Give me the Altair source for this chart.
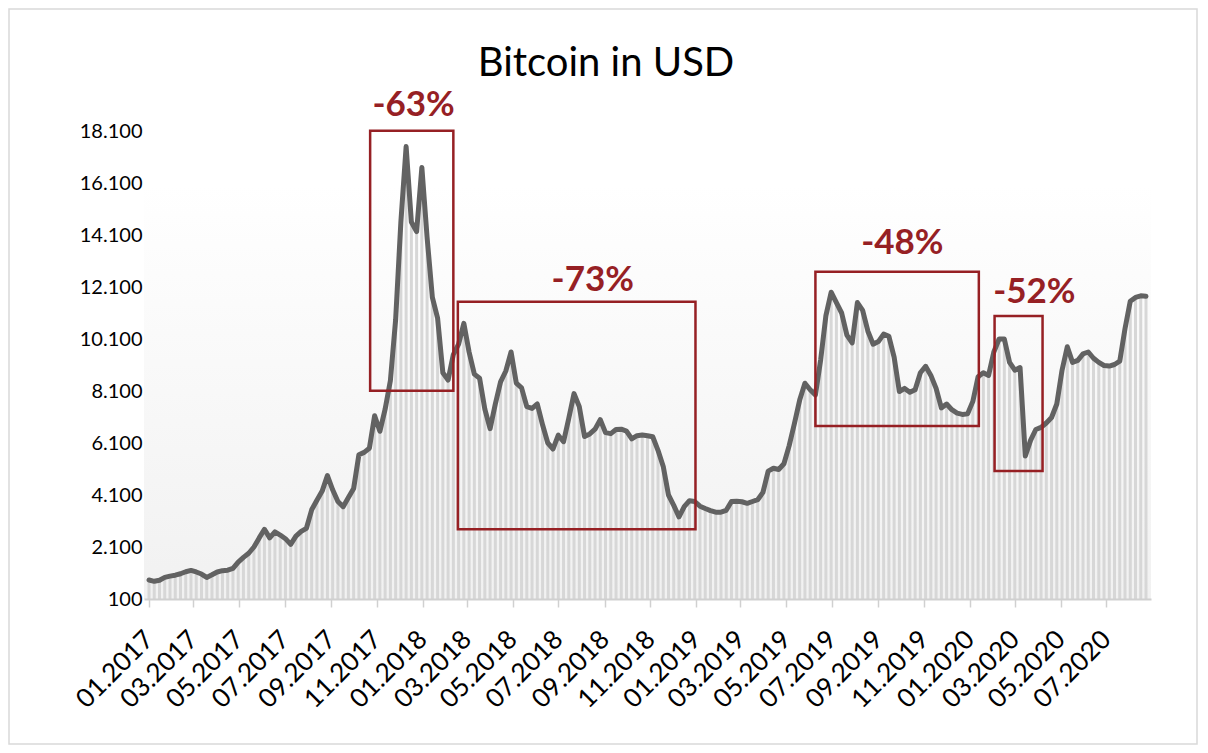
import altair as alt
import pandas as pd

# Weekly Bitcoin price in USD (first week starts 2017-01-01)
START = "2017-01-01"
PRICES = [
    830, 780, 820, 930, 980, 1015, 1070, 1150, 1200, 1140,
    1060, 930, 1030, 1140, 1190, 1210, 1280, 1520, 1700, 1860,
    2100, 2450, 2780, 2450, 2680, 2560, 2420, 2200, 2520, 2700,
    2820, 3530, 3900, 4250, 4850, 4300, 3850, 3650, 4000, 4350,
    5650, 5740, 5900, 7150, 6550, 7400, 8500, 10840, 14600, 17500,
    14600, 14230, 16700, 14000, 11700, 10900, 8800, 8520, 9500, 9900,
    10700, 9600, 8750, 8590, 7400, 6650, 7600, 8450, 8870, 9600,
    8400, 8220, 7500, 7430, 7600, 6800, 6100, 5870, 6400, 6150,
    7050, 8000, 7500, 6350, 6450, 6630, 7000, 6500, 6460, 6620,
    6630, 6560, 6260, 6380, 6410, 6380, 6340, 5820, 5200, 4100,
    3700, 3260, 3650, 3880, 3850, 3670, 3580, 3500, 3440, 3440,
    3510, 3850, 3860, 3840, 3780, 3850, 3920, 4200, 5020, 5130,
    5080, 5300, 6000, 6850, 7750, 8400, 8150, 7950, 9300, 11000,
    11900, 11500, 11100, 10250, 9950, 11500, 11200, 10400, 9900, 10000,
    10290, 10200, 9400, 8080, 8200, 8050, 8150, 8800, 9050, 8700,
    8200, 7450, 7600, 7380, 7250, 7200, 7220, 7700, 8650, 8800,
    8700, 9600, 10100, 10100, 9200, 8900, 9000, 5600, 6200, 6620,
    6700, 6870, 7080, 7600, 8900, 9800, 9200, 9280, 9530, 9600,
    9360, 9200, 9080, 9060, 9120, 9250, 10500, 11550, 11700, 11760,
    11740,
]

# Drawdown boxes
BOX_START = ["2017-10-23", "2018-02-17", "2019-06-09", "2020-02-03"]
BOX_END = ["2018-02-11", "2018-12-31", "2020-01-13", "2020-04-07"]
BOX_LOW = [8110, 2780, 6750, 5020]
BOX_HIGH = [18110, 11535, 12690, 10985]

# Drawdown labels
LABEL_TEXT = ["-63%", "-73%", "-48%", "-52%"]
LABEL_DATE = ["2017-12-20", "2018-08-16", "2019-10-03", "2020-03-27"]
LABEL_Y = [19100, 12370, 13790, 11910]

TITLE = "Bitcoin in USD"
Y_TICKS = [100, 2100, 4100, 6100, 8100, 10100, 12100, 14100, 16100, 18100]
X_TICKS = [
    "2017-01-01", "2017-03-01", "2017-05-01", "2017-07-01", "2017-09-01", "2017-11-01",
    "2018-01-01", "2018-03-01", "2018-05-01", "2018-07-01", "2018-09-01", "2018-11-01",
    "2019-01-01", "2019-03-01", "2019-05-01", "2019-07-01", "2019-09-01", "2019-11-01",
    "2020-01-01", "2020-03-01", "2020-05-01", "2020-07-01",
]

dates = pd.date_range(START, periods=len(PRICES), freq="7D")
df = pd.DataFrame({"date": dates.strftime("%Y-%m-%d"), "price": PRICES})
boxes = pd.DataFrame({"s": BOX_START, "e": BOX_END, "lo": BOX_LOW, "hi": BOX_HIGH})
labels = pd.DataFrame({"t": LABEL_TEXT, "d": LABEL_DATE, "y": LABEL_Y})

def ms(s):
    return int(pd.Timestamp(s, tz="UTC").value // 10**6)

x_tick_ms = [ms(s) for s in X_TICKS]
x_domain = [ms(START), ms(dates[-1].strftime("%Y-%m-%d"))]

W, H = 1007, 468
RED = "#962024"
FONT = "Lato"

xscale = alt.Scale(type="utc", domain=x_domain, nice=False)
yscale = alt.Scale(domain=[100, 18100], nice=False, zero=False)

x_axis = alt.Axis(
    values=x_tick_ms, format="%m.%Y", labelAngle=-45, labelAlign="right",
    labelBaseline="middle", labelFontSize=26, labelFont=FONT, labelColor="#000000",
    labelPadding=28, tickSize=8, tickColor="#d0d0d0", tickWidth=1.5,
    domainColor="#d0d0d0", domainWidth=2, grid=False, title=None, labelOverlap=False,
    zindex=1,
)
y_axis = alt.Axis(
    values=Y_TICKS, labelExpr="replace(format(datum.value, ','), ',', '.')",
    labelFontSize=20, labelFont=FONT, labelColor="#000000", domain=False, ticks=False,
    grid=False, title=None, labelPadding=2, zindex=1,
)

one = pd.DataFrame({"a": [0]})

# chart frame and plot background
frame = alt.Chart(one).mark_rect(
    fill="transparent", stroke="#d9d9d9", strokeWidth=1.5
).encode(x=alt.value(-135), x2=alt.value(W + 46), y=alt.value(-122), y2=alt.value(H + 145))

bg = alt.Chart(one).mark_rect(
    color=alt.Gradient(
        gradient="linear", x1=0, x2=0, y1=0, y2=1,
        stops=[alt.GradientStop(offset=0, color="#ffffff"),
               alt.GradientStop(offset=1, color="#f1f1f1")],
    )
).encode(x=alt.value(0), x2=alt.value(W), y=alt.value(54), y2=alt.value(H))

title = alt.Chart(one).mark_text(
    text=TITLE, font=FONT, fontSize=40, color="#000000", baseline="middle", align="center"
).encode(x=alt.value(462), y=alt.value(-67))

base = alt.Chart(df).transform_calculate(base="100")

bars = base.mark_bar(size=3, color="#d7d7d7").encode(
    x=alt.X("date:T", scale=xscale, axis=x_axis),
    y=alt.Y("price:Q", scale=yscale, axis=y_axis),
    y2="base:Q",
)

line = base.mark_line(color="#626262", strokeWidth=5, strokeJoin="round", strokeCap="round").encode(
    x=alt.X("date:T", scale=xscale),
    y=alt.Y("price:Q", scale=yscale),
)

rects = alt.Chart(boxes).mark_rect(fill="transparent", stroke=RED, strokeWidth=2.5).encode(
    x=alt.X("s:T", scale=xscale), x2="e:T",
    y=alt.Y("lo:Q", scale=yscale), y2="hi:Q",
)

texts = alt.Chart(labels).mark_text(
    color=RED, font=FONT, fontSize=35, fontWeight="bold", baseline="middle", align="center"
).encode(
    x=alt.X("d:T", scale=xscale), y=alt.Y("y:Q", scale=yscale), text="t:N"
)

chart = alt.layer(frame, bg, bars, line, rects, texts, title).properties(
    width=W, height=H,
    autosize=alt.AutoSizeParams(type="none"),
    padding={"left": 136, "top": 123, "right": 48, "bottom": 146},
).configure_view(stroke=None)

chart.save("out.html", embed_options={"renderer": "svg", "actions": False})
